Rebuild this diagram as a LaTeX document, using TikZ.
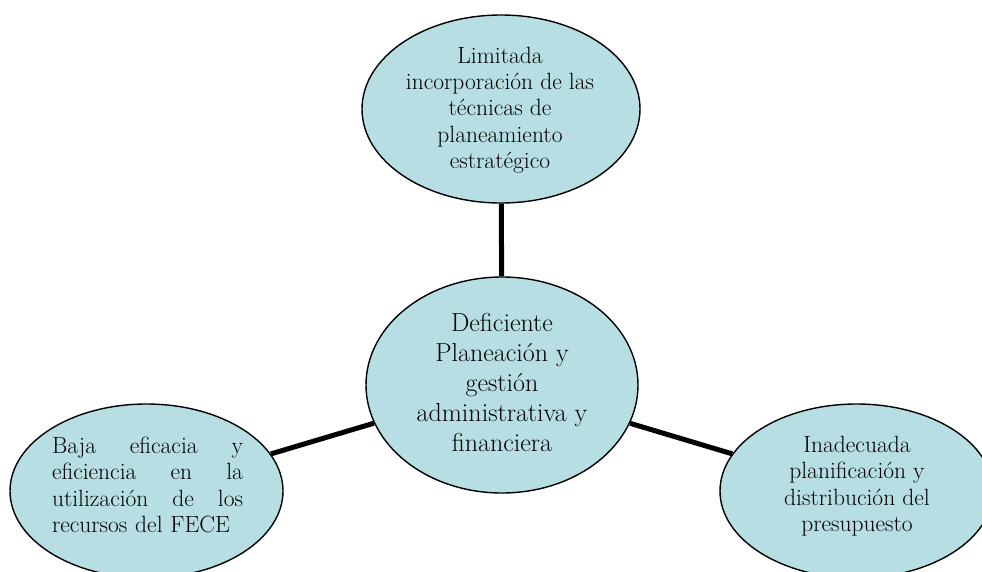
\documentclass[tikz,border=0pt]{standalone}
\usetikzlibrary{shapes.geometric}
\definecolor{ovalfill}{RGB}{183,223,227}
\begin{document}
\begin{tikzpicture}[x=1pt,y=-1pt,
  oval/.style={ellipse,draw=black,line width=1.4pt,fill=ovalfill,inner sep=0pt,minimum width=273pt,minimum height=174pt},
  txt/.style={align=center,inner sep=0pt,font=\fontsize{23.5}{26.3}\selectfont},
  bigtxt/.style={align=center,inner sep=0pt,font=\fontsize{26}{30}\selectfont},
  link/.style={line width=5pt,black}]
\clip (0,0) rectangle (982,571);
\fill[white] (0,0) rectangle (982,571);
\node[oval,minimum width=278pt,minimum height=188pt] (top) at (501,109) {};
\node[oval,minimum width=272pt,minimum height=216pt] (mid) at (502,385) {};
\node[oval] (left) at (146.5,491) {};
\node[oval] (right) at (856.5,491) {};
\draw[link] (top) -- (mid);
\draw[link] (left) -- (mid);
\draw[link] (right) -- (mid);
\node[txt] (ttop) at (500,110) {Limitada\\incorporación de las\\técnicas de\\planeamiento\\estratégico};
\node[bigtxt] (tmid) at (502,382) {Deficiente\\Planeación y\\gestión\\administrativa y\\financiera};
\node[txt,text width=191pt,align=left] (tleft) at (147.5,485) {\makebox[191pt]{Baja\hfill eficacia\hfill y}\\\makebox[191pt]{eficiencia\hfill en\hfill la}\\\makebox[191pt]{utilización\hfill de\hfill los}\\recursos del FECE};
\node[txt] (tright) at (857,486) {Inadecuada\\planificación y\\distribución del\\presupuesto};
\end{tikzpicture}
\end{document}
